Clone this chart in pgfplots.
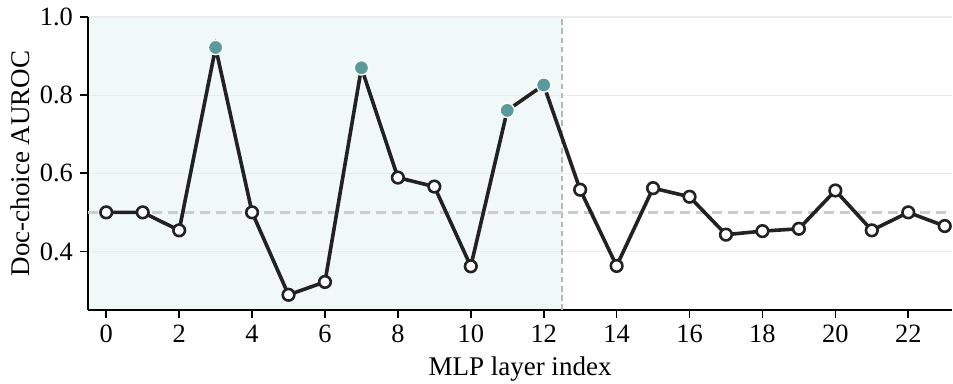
\documentclass[border=0pt]{standalone}
\usepackage{fontspec}
\setmainfont{Liberation Serif}
\usepackage{pgfplots}
\pgfplotsset{compat=1.18}
\definecolor{shade}{HTML}{F1F9F8}
\definecolor{teal1}{HTML}{5B9A9B}
\definecolor{linec}{HTML}{222222}
\definecolor{gridc}{HTML}{EBEBEB}
\begin{document}
\begin{tikzpicture}
\begin{axis}[name=ax, set layers, scale only axis, width=431.9pt, height=146.5pt,
 xmin=-0.5, xmax=23.2, ymin=0.25, ymax=1.0,
 axis lines=left, axis line style={-, line width=0.8pt, black},
 xtick={0,2,...,22}, ytick={0.4,0.6,0.8,1.0},
 yticklabel style={/pgf/number format/fixed, /pgf/number format/fixed zerofill, /pgf/number format/precision=1},
 /pgf/number format/assume math mode=true,
 ymajorgrids, grid style={color=gridc, line width=0.6pt},
 tick style={black, line width=0.8pt}, major tick length=4pt, tick align=outside,
 ticklabel style={font=\fontsize{13.2}{15}\selectfont},
 label style={font=\fontsize{13.5}{16}\selectfont},
 xlabel={MLP layer index}, ylabel={Doc-choice AUROC},
 ylabel shift=-2pt,
 clip mode=individual,
]
\addplot[fill=shade, draw=none, on layer=axis background] coordinates {(-0.5,0.25) (12.5,0.25) (12.5,1.0) (-0.5,1.0)} -- cycle;
\addplot[color=black!28, line width=1.0pt, dash pattern=on 2.8pt off 1.8pt] coordinates {(12.5,0.25) (12.5,1.0)};
\addplot[color=black!20, line width=1.4pt, dash pattern=on 5pt off 3pt] coordinates {(-0.5,0.5) (23.2,0.5)};
\addplot[linec, line width=1.8pt, mark=*, mark size=2.9pt, mark options={fill=white, draw=linec, line width=1.3pt, solid}] coordinates {
(0,0.500) (1,0.500) (2,0.454) (3,0.922) (4,0.500) (5,0.289) (6,0.322) (7,0.870)
(8,0.589) (9,0.566) (10,0.362) (11,0.761) (12,0.826) (13,0.558) (14,0.363) (15,0.562)
(16,0.540) (17,0.443) (18,0.452) (19,0.458) (20,0.556) (21,0.454) (22,0.500) (23,0.465)};
\addplot[only marks, mark=*, mark size=3.6pt, mark options={fill=teal1, draw=white, line width=0.7pt}] coordinates {(3,0.922) (7,0.870) (11,0.761) (12,0.826)};
\end{axis}
\pgfresetboundingbox
\useasboundingbox ([xshift=-44pt,yshift=-36.5pt]ax.south west) rectangle ([xshift=0.5pt,yshift=8.5pt]ax.north east);
\end{tikzpicture}
\end{document}
